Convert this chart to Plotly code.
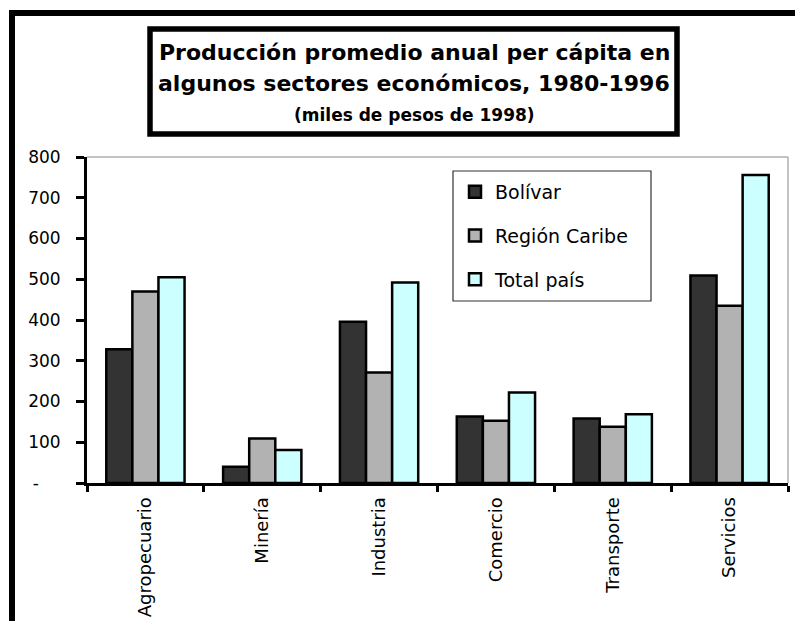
import plotly.graph_objects as go

categories = ["Agropecuario", "Minería", "Industria", "Comercio", "Transporte", "Servicios"]
bolivar = [328, 40, 396, 163, 158, 509]
region_caribe = [470, 109, 271, 153, 138, 435]
total_pais = [505, 81, 492, 222, 169, 756]
series_names = ["Bolívar", "Región Caribe", "Total país"]
series_colors = ["#333333", "#b2b2b2", "#ccffff"]
y_ticks = [0, 100, 200, 300, 400, 500, 600, 700, 800]
y_ticktext = ["-\u00a0\u00a0\u00a0\u00a0", "100", "200", "300", "400", "500", "600", "700", "800"]
title_lines = ["Producción promedio anual per cápita en",
               "algunos sectores económicos, 1980-1996",
               "(miles de pesos de 1998)"]

W, H = 795, 621
L, R, T, B = 87, 788, 157, 483
FONT = "DejaVu Sans"


def px(x):
    return (x - L) / (R - L)


def py(y):
    return (B - y) / (B - T)


fig = go.Figure()
for name, vals, col in zip(series_names, [bolivar, region_caribe, total_pais], series_colors):
    fig.add_trace(go.Bar(
        x=categories, y=vals, name=name, legendgroup=name,
        marker=dict(color=col, line=dict(color="black", width=2.5)),
    ))

shapes = [
    dict(type="line", xref="paper", yref="paper", x0=0, x1=1, y0=1, y1=1,
         line=dict(color="#888888", width=1)),
    dict(type="line", xref="paper", yref="paper", x0=1, x1=1, y0=0, y1=1,
         line=dict(color="#888888", width=1)),
    dict(type="line", xref="paper", yref="paper", x0=px(9), x1=px(800), y0=py(13), y1=py(13),
         line=dict(color="black", width=6)),
    dict(type="line", xref="paper", yref="paper", x0=px(12), x1=px(12), y0=py(10), y1=py(630),
         line=dict(color="black", width=6)),
    dict(type="rect", xref="paper", yref="paper", x0=px(150), x1=px(677), y0=py(29), y1=py(134),
         line=dict(color="black", width=5.5), fillcolor="white", layer="below"),
    dict(type="rect", xref="paper", yref="paper", x0=px(453), x1=px(651), y0=py(171), y1=py(301),
         line=dict(color="#333333", width=1.2)),
]

annotations = [
    dict(text="<b>" + title_lines[0] + "</b>", x=px(414), y=py(52), xref="paper", yref="paper",
         showarrow=False, xanchor="center", yanchor="middle", font=dict(family=FONT, size=22, color="black")),
    dict(text="<b>" + title_lines[1] + "</b>", x=px(414), y=py(84), xref="paper", yref="paper",
         showarrow=False, xanchor="center", yanchor="middle", font=dict(family=FONT, size=22, color="black")),
    dict(text="<b>" + title_lines[2] + "</b>", x=px(414), y=py(115), xref="paper", yref="paper",
         showarrow=False, xanchor="center", yanchor="middle", font=dict(family=FONT, size=17, color="black")),
]

fig.update_layout(
    width=W, height=H,
    margin=dict(l=L, r=W - R, t=T, b=H - B, pad=0, autoexpand=False),
    paper_bgcolor="white", plot_bgcolor="white",
    barmode="group", bargap=0.33, bargroupgap=0,
    font=dict(family=FONT, color="black"),
    showlegend=True,
    legend=dict(x=px(455), y=py(173), xanchor="left", yanchor="top",
                bgcolor="rgba(0,0,0,0)", borderwidth=0,
                font=dict(family=FONT, size=19, color="black"),
                tracegroupgap=16, traceorder="grouped"),
    shapes=shapes, annotations=annotations,
)
fig.update_xaxes(
    type="category", showline=True, linecolor="black", linewidth=3, automargin=False,
    ticks="outside", tickson="boundaries", ticklen=6, tickwidth=3, tickcolor="black",
    tickangle=-90, tickfont=dict(family=FONT, size=18, color="black"), ticklabelstandoff=4,
    showgrid=False, zeroline=False,
)
fig.update_yaxes(
    range=[0, 800], tickvals=y_ticks, ticktext=y_ticktext, automargin=False,
    showline=True, linecolor="black", linewidth=3,
    ticks="outside", ticklen=8, tickwidth=3, tickcolor="black",
    tickfont=dict(family=FONT, size=17, color="black"), ticklabelstandoff=12,
    showgrid=False, zeroline=False,
)

fig.write_html("out.html", config={"displayModeBar": False},
               post_script="document.body.style.margin='0';document.body.style.padding='0';")
